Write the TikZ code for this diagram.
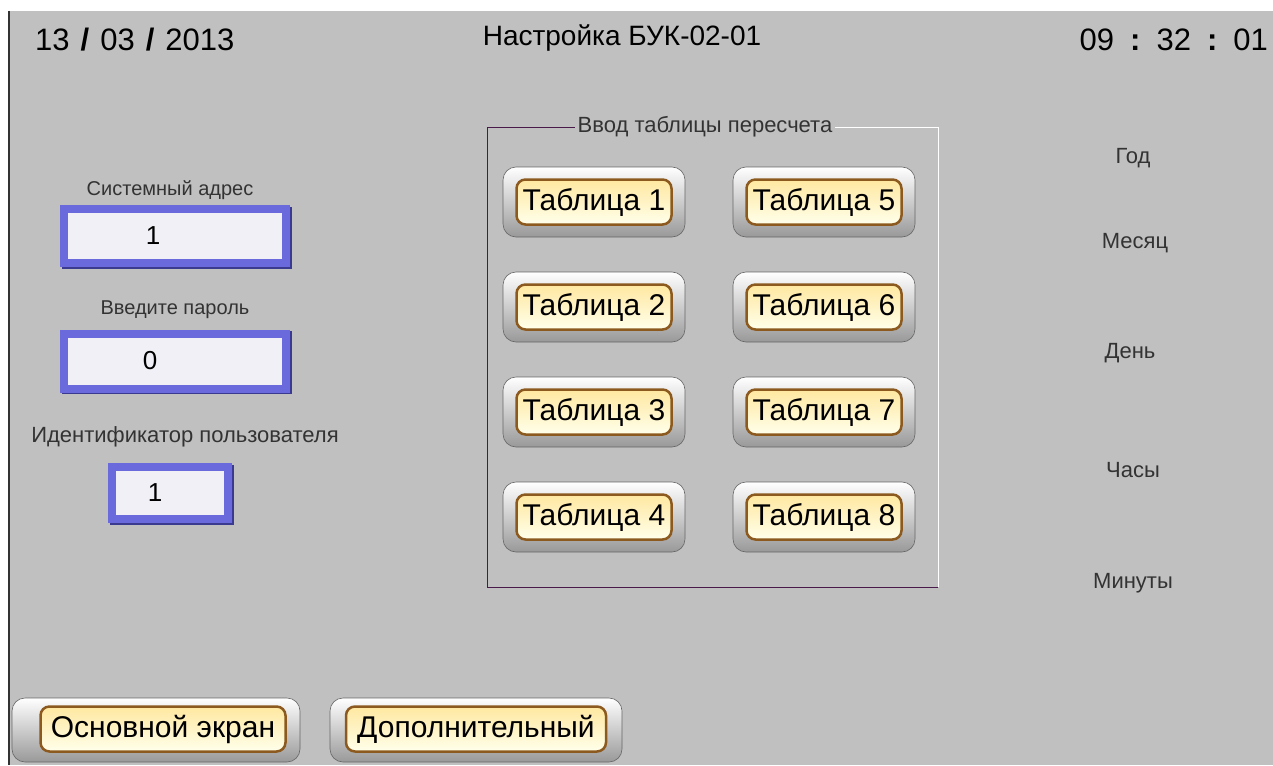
\documentclass[tikz,border=0pt]{standalone}
\usepackage{fontspec}
\setmainfont{Liberation Sans}
\usetikzlibrary{positioning}
\definecolor{panelgray}{HTML}{C0C0C0}
\definecolor{boxblue}{HTML}{6A6ADC}
\definecolor{boxdark}{HTML}{3A3A90}
\definecolor{boxfill}{HTML}{F0F0F6}
\definecolor{btnbrown}{HTML}{8C5A1E}
\definecolor{btnyellow}{HTML}{FFE8A0}
\definecolor{framedark}{HTML}{4A1A4A}
\tikzset{x=1pt, y=-1pt,
node distance=105pt,
lbl/.style={
inner sep=0pt,
text=black!80,
font=\fontsize{20}{20}\selectfont},
sidelbl/.style={
lbl,
font=\fontsize{22}{22}\selectfont},
bigtext/.style={
inner sep=0pt,
text=black,
font=\fontsize{31}{31}\selectfont},
valbox/.style={
draw=boxblue,
line width=8pt,
fill=boxfill,
preaction={draw=boxdark, line width=8pt,
transform canvas={xshift=1.5pt, yshift=-1.5pt}}},
valtext/.style={
inner sep=0pt,
font=\fontsize{26}{26}\selectfont},
tabframe/.style={
draw=black!60,
semithick,
rounded corners=13pt,
top color=white,
bottom color=black!40,
minimum width=182pt,
minimum height=70pt},
tabbtn/.style={
draw=btnbrown,
line width=2.5pt,
rounded corners=9pt,
top color=btnyellow,
bottom color=yellow!8,
inner sep=0pt,
minimum width=155pt,
minimum height=45pt,
font=\fontsize{30}{30}\selectfont}}
\begin{document}
\begin{tikzpicture}
\useasboundingbox (0,0) rectangle (1273,765);
\fill[white] (0,0) rectangle (1273,765);
\fill[panelgray] (9,11) rectangle (1273,765);
\draw[black!80, line width=2pt] (9,11) -- (9,765);
% header
\node[bigtext, anchor=west] (date) at (35,40) {13\hspace{11pt}\textbf{/}\hspace{11pt}03\hspace{11pt}\textbf{/}\hspace{11pt}2013};
\node[bigtext, anchor=east] (time) at (1268,40) {09\hspace{16pt}\textbf{:}\hspace{16pt}32\hspace{16pt}\textbf{:}\hspace{16pt}01};
\node[bigtext, font=\fontsize{28}{28}\selectfont] (title) at (622,38) {Настройка БУК-02-01};
% left column
\node[valbox, minimum width=222pt, minimum height=54pt] (addr) at (175,236) {};
\node[valtext] (addrval) at ([xshift=-22pt]addr.center) {1};
\node[lbl] (addrlbl) at (170,190) {Системный адрес};
\node[valbox, minimum width=222pt, minimum height=55pt] (pass) at (175,361) {};
\node[valtext] (passval) at ([xshift=-25pt]pass.center) {0};
\node[lbl] (passlbl) at (175,310) {Введите пароль};
\node[valbox, minimum width=116pt, minimum height=52pt] (user) at (170,493) {};
\node[valtext] (userval) at ([xshift=-15pt]user.center) {1};
\node[lbl, font=\fontsize{22}{22}\selectfont] (userlbl) at (185,437) {Идентификатор пользователя};
% group of tables
\coordinate (gtl) at (487,127);
\coordinate (gbr) at (938,587);
\node[lbl, inner sep=3pt, font=\fontsize{22}{22}\selectfont] (gtitle) at (705,127) {Ввод таблицы пересчета};
\draw[framedark, semithick] (gtitle.west) -- (gtl) |- (gbr);
\draw[white, semithick] (gbr) |- (gtitle.east);
\node[tabframe] (f1) at (594,202) {};
\node[tabframe, below of=f1] (f2) {};
\node[tabframe, below of=f2] (f3) {};
\node[tabframe, below of=f3] (f4) {};
\node[tabframe, node distance=230pt, right of=f1] (f5) {};
\node[tabframe, below of=f5] (f6) {};
\node[tabframe, below of=f6] (f7) {};
\node[tabframe, below of=f7] (f8) {};
\node[tabbtn] (t1) at (f1) {Таблица 1};
\node[tabbtn] (t2) at (f2) {Таблица 2};
\node[tabbtn] (t3) at (f3) {Таблица 3};
\node[tabbtn] (t4) at (f4) {Таблица 4};
\node[tabbtn] (t5) at (f5) {Таблица 5};
\node[tabbtn] (t6) at (f6) {Таблица 6};
\node[tabbtn] (t7) at (f7) {Таблица 7};
\node[tabbtn] (t8) at (f8) {Таблица 8};
% right column
\node[sidelbl] (year) at (1133,158) {Год};
\node[sidelbl] (month) at (1135,243) {Месяц};
\node[sidelbl] (day) at (1130,353) {День};
\node[sidelbl] (hours) at (1133,470) {Часы};
\node[sidelbl] (minutes) at (1133,583) {Минуты};
% bottom buttons
\node[tabframe, minimum width=288pt, minimum height=64pt] (mainf) at (156,730) {};
\node[tabbtn, minimum width=245pt] (main) at (163,729) {Основной экран};
\node[tabframe, minimum width=292pt, minimum height=64pt] (extraf) at (476,730) {};
\node[tabbtn, minimum width=260pt] (extra) at (476,729) {Дополнительный};
\end{tikzpicture}
\end{document}
